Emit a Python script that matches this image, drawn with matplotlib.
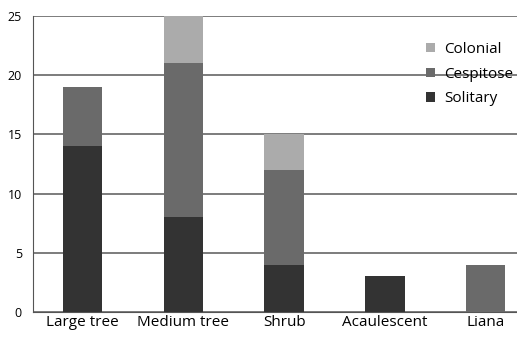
import numpy as np
import matplotlib
matplotlib.use("Agg")
import matplotlib.pyplot as plt

# growth forms and counts per habit
categories = ['Large tree', 'Medium tree', 'Shrub', 'Acaulescent', 'Liana']
solitary = [14, 8, 4, 3, 0]
cespitose = [5, 13, 8, 0, 4]
colonial = [0, 4, 3, 0, 0]

plt.rcParams['font.family'] = ['Open Sans', 'DejaVu Sans']

fig = plt.figure(figsize=(5.17, 3.41), dpi=100)
ax = fig.add_axes([0.064, 0.085, 0.936, 0.868])

x = np.arange(len(categories))
w = 0.39
sol = np.array(solitary)
ces = np.array(cespitose)
col = np.array(colonial)

ax.bar(x, sol, w, color='#333333', label='Solitary', zorder=3)
ax.bar(x, ces, w, bottom=sol, color='#6a6a6a', label='Cespitose', zorder=3)
ax.bar(x, col, w, bottom=sol + ces, color='#ababab', label='Colonial', zorder=3)

ax.set_ylim(0, 25)
ax.set_xlim(-0.49, 4.31)
ax.set_yticks([0, 5, 10, 15, 20, 25])
ax.set_xticks(x)
ax.set_xticklabels(categories)
ax.tick_params(axis='y', length=0, labelsize=9, pad=8)
ax.tick_params(axis='x', length=0, labelsize=11, pad=2)
ax.yaxis.grid(True, color='#666666', linewidth=1.2, zorder=0)
for s in ['top', 'right']:
    ax.spines[s].set_visible(False)
ax.spines['left'].set_color('#555555')
ax.spines['bottom'].set_color('#555555')

h, l = ax.get_legend_handles_labels()
ax.legend(h[::-1], l[::-1], loc='upper right', bbox_to_anchor=(1.02, 0.96),
          frameon=False, fontsize=11, handlelength=0.55, handleheight=0.55,
          handletextpad=0.6, labelspacing=0.65)

fig.savefig('out.png', dpi=100)
